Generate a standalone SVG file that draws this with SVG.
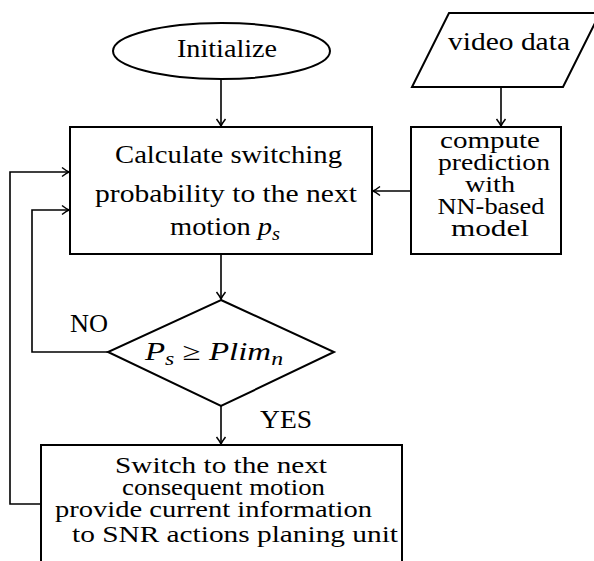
<svg xmlns="http://www.w3.org/2000/svg" width="594" height="561" viewBox="0 0 594 561">
<defs>
<marker id="arr" markerUnits="userSpaceOnUse" markerWidth="14" markerHeight="12" viewBox="-8 -6 10 12" refX="0" refY="0" orient="auto">
<path d="M-7,-4.5 Q-2.5,-1 0,0 Q-2.5,1 -7,4.5" fill="none" stroke="#000" stroke-width="1.5"/>
</marker>
</defs>
<g id="connectors" fill="none" stroke="#000" stroke-width="1.6">
<line x1="221" y1="79" x2="221" y2="126" marker-end="url(#arr)"/>
<line x1="501" y1="87" x2="501" y2="126" marker-end="url(#arr)"/>
<line x1="411" y1="191" x2="373" y2="191" marker-end="url(#arr)"/>
<line x1="221" y1="254" x2="221" y2="299" marker-end="url(#arr)"/>
<line x1="221" y1="406" x2="221" y2="444" marker-end="url(#arr)"/>
<polyline points="108,352 32,352 32,210 69,210" marker-end="url(#arr)"/>
<polyline points="41,504 10,504 10,172 69,172" marker-end="url(#arr)"/>
</g>
<g id="labels">
<text x="89" y="332" text-anchor="middle" font-family="Liberation Serif" font-size="25" textLength="38" lengthAdjust="spacingAndGlyphs">NO</text>
<text x="286" y="428" text-anchor="middle" font-family="Liberation Serif" font-size="25" textLength="52" lengthAdjust="spacingAndGlyphs">YES</text>
</g>
<g id="initialize">
<ellipse cx="221.5" cy="51" rx="108.5" ry="28" fill="#fff" stroke="#000" stroke-width="2"/>
<text x="227" y="57" text-anchor="middle" font-family="Liberation Serif" font-size="25" textLength="100" lengthAdjust="spacingAndGlyphs">Initialize</text>
</g>
<g id="video-data">
<polygon points="449,13 600,13 563,87 412,87" fill="#fff" stroke="#000" stroke-width="2"/>
<text x="509" y="50" text-anchor="middle" font-family="Liberation Serif" font-size="25" textLength="122" lengthAdjust="spacingAndGlyphs">video data</text>
</g>
<g id="calculate">
<rect x="70" y="127" width="302" height="127" fill="#fff" stroke="#000" stroke-width="2"/>
<text x="228.5" y="163" text-anchor="middle" font-family="Liberation Serif" font-size="25" textLength="227" lengthAdjust="spacingAndGlyphs">Calculate switching</text>
<text x="226" y="202" text-anchor="middle" font-family="Liberation Serif" font-size="25" textLength="262" lengthAdjust="spacingAndGlyphs">probability to the next</text>
<text x="170" y="235" font-family="Liberation Serif" font-size="25" textLength="110" lengthAdjust="spacingAndGlyphs">motion <tspan font-style="italic">p</tspan><tspan font-style="italic" font-size="18" dy="5">s</tspan></text>
</g>
<g id="compute">
<rect x="411" y="127" width="150" height="127" fill="#fff" stroke="#000" stroke-width="2"/>
<text x="490" y="148" text-anchor="middle" font-family="Liberation Serif" font-size="24" textLength="100" lengthAdjust="spacingAndGlyphs">compute</text>
<text x="494" y="170" text-anchor="middle" font-family="Liberation Serif" font-size="24" textLength="112" lengthAdjust="spacingAndGlyphs">prediction</text>
<text x="490" y="192" text-anchor="middle" font-family="Liberation Serif" font-size="24" textLength="50" lengthAdjust="spacingAndGlyphs">with</text>
<text x="491" y="214" text-anchor="middle" font-family="Liberation Serif" font-size="24" textLength="107" lengthAdjust="spacingAndGlyphs">NN-based</text>
<text x="490" y="236" text-anchor="middle" font-family="Liberation Serif" font-size="24" textLength="78" lengthAdjust="spacingAndGlyphs">model</text>
</g>
<g id="decision">
<polygon points="221,300 334,352 221,406 108,352" fill="#fff" stroke="#000" stroke-width="2"/>
<text x="145" y="360" font-family="Liberation Serif" font-size="25" textLength="138" lengthAdjust="spacingAndGlyphs"><tspan font-style="italic">P</tspan><tspan font-style="italic" font-size="18" dy="5">s</tspan><tspan dy="-5"> ≥ </tspan><tspan font-style="italic">Plim</tspan><tspan font-style="italic" font-size="18" dy="5">n</tspan></text>
</g>
<g id="switch">
<path d="M41,565 V445 H402 V565" fill="#fff" stroke="#000" stroke-width="2"/>
<text x="221" y="473" text-anchor="middle" font-family="Liberation Serif" font-size="24" textLength="212" lengthAdjust="spacingAndGlyphs">Switch to the next</text>
<text x="223.5" y="495" text-anchor="middle" font-family="Liberation Serif" font-size="24" textLength="203" lengthAdjust="spacingAndGlyphs">consequent motion</text>
<text x="213.5" y="517" text-anchor="middle" font-family="Liberation Serif" font-size="24" textLength="317" lengthAdjust="spacingAndGlyphs">provide current information</text>
<text x="235" y="542" text-anchor="middle" font-family="Liberation Serif" font-size="24" textLength="326" lengthAdjust="spacingAndGlyphs">to SNR actions planing unit</text>
</g>
</svg>
